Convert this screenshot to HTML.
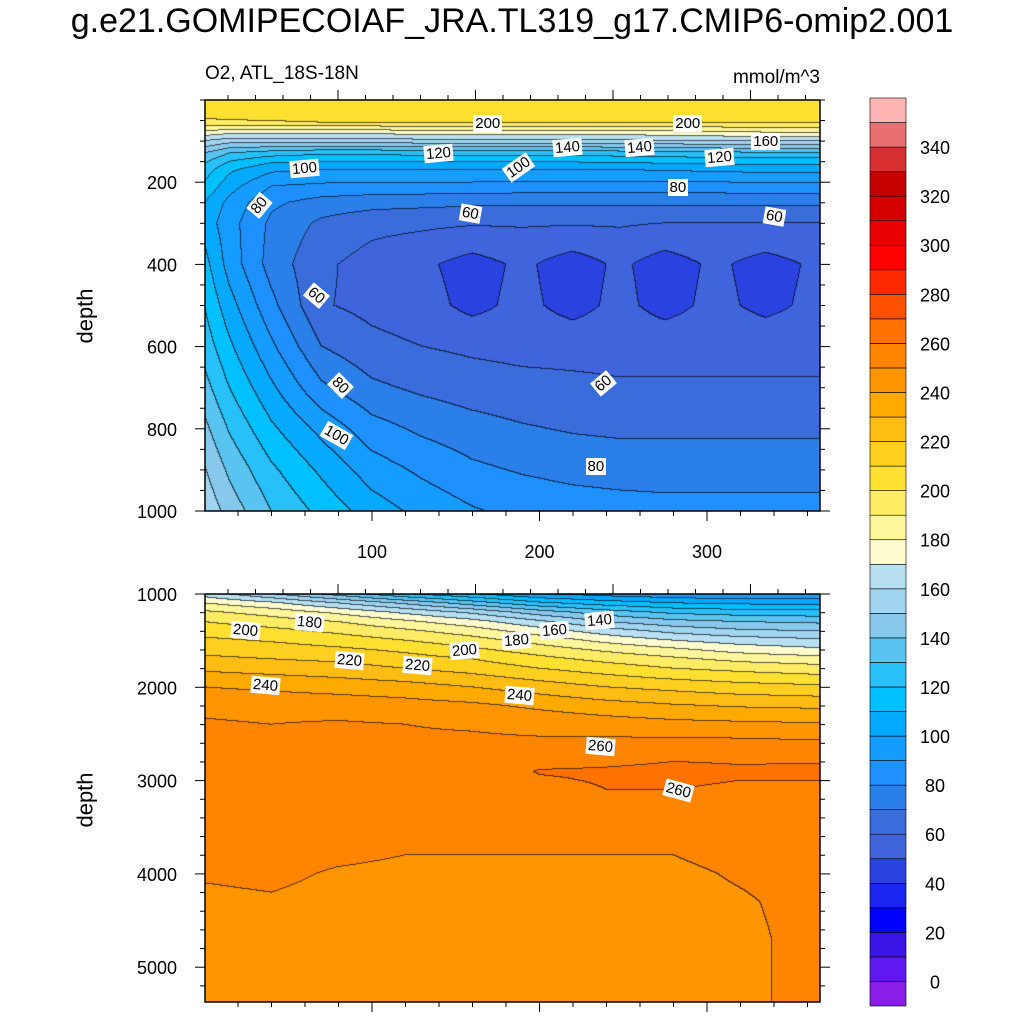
<!DOCTYPE html>
<html><head><meta charset="utf-8">
<style>
body{margin:0;background:#fff;width:1024px;height:1024px;overflow:hidden;position:relative;font-family:"Liberation Sans",sans-serif;}
.t{position:absolute;white-space:nowrap;color:#000;}
.lbl{position:absolute;background:#fff;font-size:15px;padding:0 2px;line-height:17px;transform-origin:center;}
canvas{position:absolute;}
svg{position:absolute;left:0;top:0;}
</style></head><body>
<div class="t" style="left:0;width:1024px;text-align:center;top:2px;font-size:34px;">g.e21.GOMIPECOIAF_JRA.TL319_g17.CMIP6-omip2.001</div>
<div class="t" style="left:205px;top:63px;font-size:19px;">O2, ATL_18S-18N</div>
<div class="t" style="left:680px;width:140px;text-align:right;top:67px;font-size:19px;">mmol/m^3</div>
<div class="t" style="left:58px;top:303px;font-size:22px;transform:rotate(-90deg);">depth</div>
<div class="t" style="left:58px;top:787px;font-size:22px;transform:rotate(-90deg);">depth</div>
<canvas id="c1" width="615" height="411" style="left:205px;top:100px"></canvas>
<canvas id="c2" width="615" height="408" style="left:205px;top:594px"></canvas>
<svg id="ax" width="1024" height="1024"></svg>
<div id="labels"></div>
<script>
// ---- data ----
const levelColors=["#8a1de8","#6118f0","#3a14e6","#0000ff","#1a25f0","#2a42e0","#3f64dc","#3a6cdc","#2a7fe8","#1e90ff","#159cff","#05aaff","#00c0ff","#28c0f8","#5ac4f0","#88c8ec","#a0d4f0","#b8e0f2","#fffcd0","#fff59a","#ffec64","#ffe030","#ffd020","#ffbd14","#ffaa00","#ff9500","#ff8500","#ff7200","#ff5000","#ff2a00","#ff0000","#e80000","#d40000","#c40000","#d83030","#e87070","#ffb4b4"];
const cbLabels=[0,20,40,60,80,100,120,140,160,180,200,220,240,260,280,300,320,340];
const topDays=[0,15,40,70,100,130,160,190,220,248,275,305,335,367];
const topDepths=[0,40,55,70,85,100,115,130,150,170,210,250,300,400,500,600,700,800,900,1000];
const topCols=[
[204,203,196,185,172,160,150,140,132,125,118,110,106,114,120,126,134,143,151,158],
[204,203,198,183,168,155,142,130,120,112,104,97,94,96,104,112,120,129,138,146],
[204,203,199,183,168,155,140,125,112,102,90,82,78,76,83,92,102,112,122,130],
[205,204,200,184,168,155,138,122,110,100,88,76,68,62,61,70,82,97,108,117],
[205,204,200,184,168,155,138,122,110,100,87,74,63,56,57,63,72,84,95,105],
[205,204,200,185,170,157,140,124,111,100,87,73,62,52,54,60,68,78,88,97],
[205,204,200,185,170,157,140,124,111,100,87,72,61,46,47,58,65,74,82,91],
[205,204,200,185,170,157,140,124,111,100,86,72,61,52,53,57,63,71,79,87],
[205,204,200,185,170,157,140,124,111,100,86,72,61,45,46,57,62,69,77,85],
[205,204,200,185,170,158,141,125,112,100,86,72,61,52,53,57,61,68,76,84],
[205,204,200,186,172,159,142,126,113,101,86,72,60,45,46,57,61,68,76,83],
[206,205,201,187,173,160,143,127,114,102,86,72,60,52,53,57,61,68,76,83],
[206,205,201,188,175,161,145,128,115,103,87,72,60,46,47,57,61,68,76,83],
[206,205,202,188,175,161,145,128,115,103,87,72,60,52,53,57,61,68,76,83]];
const botDays=[0,40,80,120,160,200,240,280,320,367];
const botDepths=[1000,1100,1200,1300,1400,1500,1600,1700,1800,2000,2200,2400,2700,2900,3100,3400,3700,4000,4300,4700,5000,5360];
const botCols=[
[165,180,192,200,206,212,217,222,228,240,248,251,253,254,254,254,253,251,248,246,245,245],
[150,172,186,195,203,209,215,220,226,238,247,250,252,254,255,255,254,252,249,246,245,245],
[135,160,178,190,198,205,212,218,224,236,246,251,252,254,255,255,253,249,247,246,245,245],
[120,148,168,182,192,200,208,214,220,234,244,250,252,254,255,254,251,248,246,245,245,245],
[110,135,158,174,185,194,202,210,216,230,242,249,253,255,256,255,251,248,246,245,245,244],
[100,122,145,162,175,186,195,203,210,225,238,247,254,260.5,258,256,251,248,246,245,245,244],
[95,115,135,150,165,177,188,197,205,220,234,245,256,261,260,256,251,248,246,246,246,246],
[92,110,128,143,157,170,182,192,200,217,231,243,258,262,260,256,251,248,247,247,247,247],
[90,108,125,140,152,165,176,187,197,214,229,242,258,261,259,256,254,251,249,248,248,248],
[90,107,124,138,150,162,172,184,194,212,228,241,257,262,258,256,255,254,253,253,253,253]];
const topLabels=[["200",488,123,0],["200",688,123,0],["160",766,141,0],["140",568,147,-5],["140",640,147,-5],["120",439,153,-5],["120",720,157,-5],["100",305,168,-5],["100",519,167,-35],["80",678,187,0],["80",259,205,-50],["60",470,213,10],["60",774,216,10],["60",316,295,40],["60",603,383,-40],["80",340,385,45],["100",337,435,30],["80",596,466,0]];
const botLabels=[["200",246,630,5],["180",310,622,5],["220",350,660,5],["220",418,665,5],["200",465,650,-5],["180",517,640,-5],["160",555,630,-5],["140",600,620,-5],["240",266,685,5],["240",520,695,5],["260",601,746,5],["260",679,790,15]];

// ---- scales ----
const X0=204.5, XS=1.675;
const xOf=d=>X0+d*XS;
const yTop=z=>100+z*0.411;
const yBot=z=>594+(z-1000)*0.0933;

function idx(a,v){for(let i=0;i<a.length-1;i++){if(v<=a[i+1])return i;}return a.length-2;}
function sample(days,depths,cols,d,z){
  const i=idx(days,d), j=idx(depths,z);
  let tx=(d-days[i])/(days[i+1]-days[i]); tx=Math.max(0,Math.min(1,tx));
  let ty=(z-depths[j])/(depths[j+1]-depths[j]); ty=Math.max(0,Math.min(1,ty));
  const a=cols[i][j],b=cols[i+1][j],c=cols[i][j+1],e=cols[i+1][j+1];
  return (a*(1-tx)+b*tx)*(1-ty)+(c*(1-tx)+e*tx)*ty;
}
function hex(h){return [parseInt(h.substr(1,2),16),parseInt(h.substr(3,2),16),parseInt(h.substr(5,2),16)];}
const rgb=levelColors.map(hex);
function lev(v){let k=Math.floor(v/10)+1;return Math.max(0,Math.min(36,k));}
function draw(id,days,depths,cols,zOfPix){
  const cv=document.getElementById(id),ctx=cv.getContext('2d');
  const W=cv.width,H=cv.height,L=new Int16Array(W*H);
  for(let y=0;y<H;y++){const z=zOfPix(y+0.5);for(let x=0;x<W;x++){const d=(x+205+0.5-X0)/XS;L[y*W+x]=lev(sample(days,depths,cols,d,z));}}
  const im=ctx.createImageData(W,H);
  for(let y=0;y<H;y++)for(let x=0;x<W;x++){
    const k=L[y*W+x];let c=rgb[k];
    let edge=(x<W-1&&L[y*W+x+1]!==k)||(y<H-1&&L[(y+1)*W+x]!==k);
    const p=(y*W+x)*4,f=edge?0.35:1;
    im.data[p]=c[0]*f;im.data[p+1]=c[1]*f;im.data[p+2]=c[2]*f;im.data[p+3]=255;}
  ctx.putImageData(im,0,0);
}
draw('c1',topDays,topDepths,topCols,py=>py/0.411);
draw('c2',botDays,botDepths,botCols,py=>1000+py/0.0933);

// ---- axes ----
const svg=document.getElementById('ax');const NS="http://www.w3.org/2000/svg";
function line(x1,y1,x2,y2,w,name){const l=document.createElementNS(NS,'line');l.setAttribute('x1',x1);l.setAttribute('y1',y1);l.setAttribute('x2',x2);l.setAttribute('y2',y2);l.setAttribute('stroke','#000');l.setAttribute('stroke-width',w);


svg.appendChild(l);}
function text(s,x,y,anchor,name){const t=document.createElementNS(NS,'text');t.setAttribute('x',x);t.setAttribute('y',y);t.setAttribute('text-anchor',anchor);t.setAttribute('font-size','18');t.setAttribute('font-family','Liberation Sans, sans-serif');t.textContent=s;


svg.appendChild(t);}
function rect(x,y,w,h,fill,name){const r=document.createElementNS(NS,'rect');r.setAttribute('x',x);r.setAttribute('y',y);r.setAttribute('width',w);r.setAttribute('height',h);r.setAttribute('fill',fill);r.setAttribute('stroke','#000');r.setAttribute('stroke-width',fill==='none'?1.5:0.6);


svg.appendChild(r);}
const panels=[{y0:100,y1:511,major:[200,400,600,800,1000],minorStep:50,zmin:0,zmax:1000,yf:yTop,name:'top'},
{y0:594,y1:1002,major:[1000,2000,3000,4000,5000],minorStep:200,zmin:1000,zmax:5360,yf:yBot,name:'bottom'}];
panels.forEach(P=>{
  rect(205,P.y0,615,P.y1-P.y0,'none',P.name+'-frame');
  for(let z=P.zmin;z<=P.zmax;z+=P.minorStep){const y=P.yf(z);const maj=P.major.includes(z);const L=maj?10:5;
    line(205-L,y,205,y,1,P.name+'-y-tick');line(820,y,820+L,y,1,P.name+'-y-tick-right');}
  P.major.forEach(z=>text(String(z),177,P.yf(z)+7,'end',P.name+'-y-tick-label'));
  for(let d=0;d<=360;d+=20){const x=xOf(d);if(x<205)continue;const maj=d%100===0;const L=maj?10:5;line(x,P.y1,x,P.y1+L,1,P.name+'-x-tick');}
  for(let k=0;k<5;k++){const x=338+137.5*k;if(x>820)break;line(x,P.y0-10,x,P.y0,1,P.name+'-x-tick-top');}
  for(let x=228;x<820;x+=27.5){line(x,P.y0-5,x,P.y0,1,P.name+'-x-minor-top');}
});
[100,200,300].forEach(d=>text(String(d),xOf(d),558,'middle','x-tick-label'));
// colorbar
const cbTop=98,cbH=908,bh=cbH/levelColors.length;
levelColors.forEach((c,i)=>rect(870,cbTop+cbH-(i+1)*bh,36,bh,c,'colorbar-box'));
cbLabels.forEach(v=>{const i=v/10+1;text(String(v),935,cbTop+cbH-i*bh+7,'middle','colorbar-label');});
// contour labels
const lab=document.getElementById('labels');
topLabels.concat(botLabels).forEach(a=>{const d=document.createElement('div');d.className='lbl';d.textContent=a[0];


lab.appendChild(d);const w=a[0].length*8.5+4;d.style.left=(a[1]-w/2)+'px';d.style.top=(a[2]-8.5)+'px';d.style.transform='rotate('+a[3]+'deg)';});
</script>
</body></html>
